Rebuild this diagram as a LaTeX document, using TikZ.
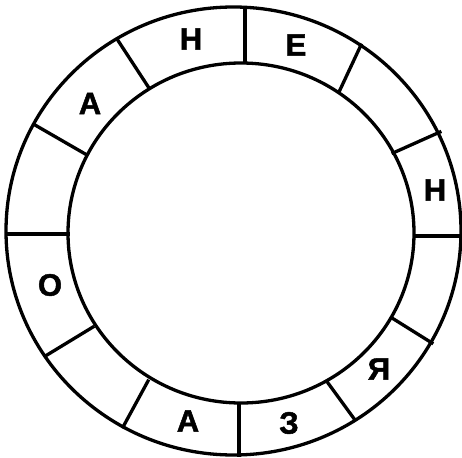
\documentclass[tikz,border=0pt]{standalone}
\usepackage{fontspec}
\setmainfont{Liberation Sans}
\newfontfamily\lblfont[FakeBold=1.6]{Liberation Sans}
\begin{document}
\begin{tikzpicture}[x=1pt,y=-1pt,line width=3.3pt,
  lbl/.style={font=\lblfont\bfseries\fontsize{31}{31}\selectfont, inner sep=0pt},
  divider/.style={shorten <=-1.5pt, shorten >=-1.5pt}]
\useasboundingbox (0,0) rectangle (462,457);
% rings
\draw (233.5,231) ellipse [x radius=227.5pt, y radius=224pt];
\draw (241,233) ellipse [x radius=173pt, y radius=170pt];
% dividers
\draw[divider] (117,39) -- (149,88);
\draw[divider] (245,8) -- (245,63);
\draw[divider] (361,45) -- (339,92);
\draw[divider] (440,132) -- (393,153);
\draw[divider] (461,236) -- (414,236);
\draw[divider] (432,343) -- (392,318);
\draw[divider] (355,420) -- (328,383);
\draw[divider] (239,455) -- (239,403);
\draw[divider] (123,427) -- (148,381);
\draw[divider] (47,355) -- (93,327);
\draw[divider] (8,234) -- (68,234);
\draw[divider] (35,125) -- (87,155);
% letters
\node[lbl] (n1) at (191,39) {Н};
\node[lbl] (e1) at (296,45) {Е};
\node[lbl] (n2) at (435,190) {Н};
\node[lbl] (ya) at (379,369) {Я};
\node[lbl] (ze) at (289,423) {З};
\node[lbl] (a2) at (188,421) {А};
\node[lbl] (o1) at (50,285) {О};
\node[lbl] (a1) at (90,103.5) {А};
\end{tikzpicture}
\end{document}
